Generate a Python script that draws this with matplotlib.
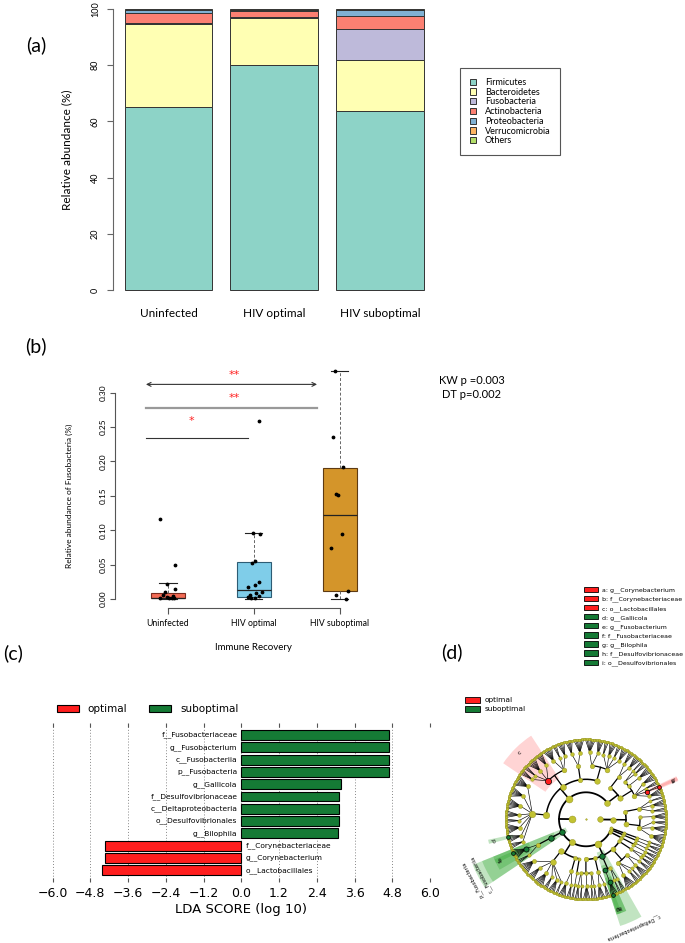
import numpy as np
import matplotlib.pyplot as plt
from matplotlib.patches import Patch, Wedge

W, H = 685, 943
LATO = 'Lato'

# ---------------- panel (a) data ----------------
groups_a = ['Uninfected', 'HIV optimal', 'HIV suboptimal']
phyla_a = ['Firmicutes', 'Bacteroidetes', 'Fusobacteria', 'Actinobacteria',
           'Proteobacteria', 'Verrucomicrobia', 'Others']
phyla_colors = ['#8DD3C7', '#FFFFB3', '#BEBADA', '#FB8072', '#80B1D3', '#FDB462', '#B3DE69']
firmicutes_pct = [65.2, 80.2, 63.6]
bacteroidetes_pct = [29.3, 16.5, 18.2]
fusobacteria_pct = [0.4, 0.4, 11.0]
actinobacteria_pct = [3.6, 2.2, 4.7]
proteobacteria_pct = [1.2, 0.3, 2.1]
verrucomicrobia_pct = [0.1, 0.2, 0.1]
others_pct = [0.2, 0.2, 0.3]

# ---------------- panel (b) data ----------------
groups_b = ['Uninfected', 'HIV optimal', 'HIV suboptimal']
box_colors = ['#F26B55', '#7FCDE9', '#D4952A']
box_edges = ['#7A2A1E', '#2D5C74', '#5E3A12']
box_q1 = [0.001, 0.003, 0.011]
box_med = [0.002, 0.0135, 0.122]
box_q3 = [0.009, 0.054, 0.191]
box_lo = [0.0, 0.0, 0.0]
box_hi = [0.023, 0.096, 0.332]
uninf_vals = [0.116, 0.049, 0.022, 0.0145, 0.0097, 0.0053, 0.0039, 0.001, 0.0015, 0.001, 0.001, 0.0024]
uninf_jit = [-0.09, 0.08, -0.01, 0.085, -0.035, -0.055, 0.055, -0.09, 0.015, 0.045, 0.07, -0.015]
opt_vals = [0.259, 0.096, 0.094, 0.053, 0.0547, 0.017, 0.020, 0.024, 0.0092, 0.0097,
            0.0053, 0.0048, 0.0024, 0.001, 0.0015]
opt_jit = [0.062, -0.004, 0.073, -0.023, 0.012, -0.066, 0.016, 0.062, 0.031, 0.093,
           -0.05, 0.058, -0.073, -0.035, 0.012]
sub_vals = [0.332, 0.236, 0.1916, 0.153, 0.1505, 0.0948, 0.074, 0.0111, 0.0053, 0.0]
sub_jit = [-0.06, -0.076, 0.033, -0.044, -0.026, 0.021, -0.099, 0.091, -0.044, 0.072]

# ---------------- panel (c) data ----------------
lda_names = ['o__Lactobacillales', 'g__Corynebacterium', 'f__Corynebacteriaceae',
             'g__Bilophila', 'o__Desulfovibrionales', 'c__Deltaproteobacteria',
             'f__Desulfovibrionaceae', 'g__Gallicola', 'p__Fusobacteria',
             'c__Fusobacteriia', 'g__Fusobacterium', 'f__Fusobacteriaceae']
lda_scores = [-4.42, -4.32, -4.32, 3.085, 3.095, 3.095, 3.095, 3.17, 4.695, 4.695, 4.695, 4.695]
lda_group = ['optimal'] * 3 + ['suboptimal'] * 9
lefse_colors = {'optimal': '#FF1E1E', 'suboptimal': '#157A35'}

# ---------------- panel (d) data ----------------
# kingdom -> phylum -> class -> order -> family (number of genera)
archaea_k = [[[[7, 5, 3], [5]], [[3, 5, 2]]]]
actinobacteria = [[[5, 2, 3, 5], [5], [3, 2]], [[5, 4]]]
firmicutes = [[[5, 3, 5, 3], [5, 7]], [[7, 5]], [[5, 3, 7], [5, 7, 3, 4]],
              [[8, 7, 8, 5, 3, 7, 5, 4]]]
fusobacteria = [[[7, 3]]]
bacteroidetes = [[[8, 5, 7, 3, 5, 2]], [[5, 3]], [[2]]]
proteobacteria = [[[3, 2], [5], [2, 2]], [[5, 3]], [[5], [2, 3]], [[7, 3, 2], [5, 3]], [[3, 2]]]
tenericutes = [[[3], [2]]]
verrucomicrobia = [[[3]]]
synergistetes = [[[2]]]
bacteria_k = [actinobacteria, firmicutes, fusobacteria, bacteroidetes, proteobacteria,
              tenericutes, verrucomicrobia, synergistetes]
clado_tree = [archaea_k, bacteria_k]
clado_hl = [
    ((1, 0, 0, 0, 1, 0), 'optimal', 'a'),
    ((1, 0, 0, 0, 1), 'optimal', 'b'),
    ((1, 1, 2, 1), 'optimal', 'c'),
    ((1, 1, 3, 0, 6, 1), 'suboptimal', 'd'),
    ((1, 2, 0, 0, 0, 2), 'suboptimal', 'e'),
    ((1, 2, 0, 0, 0), 'suboptimal', 'f'),
    ((1, 4, 2, 0, 0, 1), 'suboptimal', 'g'),
    ((1, 4, 2, 0, 0), 'suboptimal', 'h'),
    ((1, 4, 2, 0), 'suboptimal', 'i'),
    ((1, 4, 2), 'suboptimal', 'c__Deltaproteobacteria'),
    ((1, 2, 0), 'suboptimal', 'c__Fusobacteriia'),
    ((1, 2), 'suboptimal', 'p__Fusobacteria'),
]
clado_keys = ['a: g__Corynebacterium', 'b: f__Corynebacteriaceae', 'c: o__Lactobacillales',
              'd: g__Gallicola', 'e: g__Fusobacterium', 'f: f__Fusobacteriaceae',
              'g: g__Bilophila', 'h: f__Desulfovibrionaceae', 'i: o__Desulfovibrionales']
clado_key_group = ['optimal'] * 3 + ['suboptimal'] * 6

fig = plt.figure(figsize=(W / 100, H / 100), dpi=100)


def px_axes(x0, y0, x1, y1):
    return fig.add_axes([x0 / W, 1 - y1 / H, (x1 - x0) / W, (y1 - y0) / H])


def ftext(x, y, s, **kw):
    fig.text(x / W, 1 - y / H, s, **kw)


# panel labels
for lab, x, y in [('(a)', 36, 45), ('(b)', 36, 346), ('(c)', 13, 653), ('(d)', 452, 652)]:
    ftext(x, y, lab, fontsize=14, family=LATO, ha='center', va='center')

# ================= (a) stacked bars =================
ax_a = px_axes(113, 9, 434, 290)
series_a = [firmicutes_pct, bacteroidetes_pct, fusobacteria_pct, actinobacteria_pct,
            proteobacteria_pct, verrucomicrobia_pct, others_pct]
xa = np.arange(len(groups_a))
bottom = np.zeros(len(groups_a))
for vals, col, name in zip(series_a, phyla_colors, phyla_a):
    ax_a.bar(xa, vals, 0.83, bottom=bottom, color=col, edgecolor='#333333',
             linewidth=0.7, label=name, clip_on=False)
    bottom += np.array(vals)
ax_a.set_xlim(-0.525, 2.51)
ax_a.set_ylim(0, 100)
for s in ['top', 'right', 'bottom']:
    ax_a.spines[s].set_visible(False)
ax_a.spines['left'].set_color('#666666')
ax_a.set_yticks([0, 20, 40, 60, 80, 100])
ax_a.tick_params(axis='y', labelrotation=90, labelsize=6.5, length=4.5, pad=5,
                 color='#666666')
for t in ax_a.get_yticklabels():
    t.set_family(LATO)
    t.set_va('center')
ax_a.set_xticks(xa, groups_a)
ax_a.tick_params(axis='x', length=0, pad=13, labelsize=8.5)
for t in ax_a.get_xticklabels():
    t.set_family(LATO)
ax_a.set_ylabel('Relative abundance (%)', fontsize=8.5, family=LATO)
ax_a.yaxis.set_label_coords(-0.128, 0.5)
handles_a = [Patch(facecolor=c, edgecolor='#333333', linewidth=0.7) for c in phyla_colors]
leg_a = fig.legend(handles_a, phyla_a, loc='upper left', bbox_to_anchor=(460 / W, 1 - 68 / H),
                   borderaxespad=0, prop={'family': LATO, 'size': 6.5},
                   handlelength=0.7, handleheight=0.7, handletextpad=0.95,
                   labelspacing=0.08, borderpad=1.1, fancybox=False, framealpha=1)
leg_a.get_frame().set_edgecolor('#555555')
leg_a.get_frame().set_linewidth(0.8)

# ================= (b) box plot =================
ax_b = px_axes(115, 361, 393, 606)
stats = []
for i in range(3):
    stats.append(dict(med=box_med[i], q1=box_q1[i], q3=box_q3[i],
                      whislo=box_lo[i], whishi=box_hi[i], fliers=[]))
bp = ax_b.bxp(stats, positions=[1, 2, 3], widths=0.4, patch_artist=True, showfliers=False,
              whiskerprops=dict(linestyle=(0, (3, 2)), color='#666666', linewidth=0.7),
              capprops=dict(color='#222222', linewidth=0.8),
              medianprops=dict(color='#222222', linewidth=0.9), capwidths=0.2)
for patch, fc, ec in zip(bp['boxes'], box_colors, box_edges):
    patch.set_facecolor(fc)
    patch.set_edgecolor(ec)
    patch.set_linewidth(0.8)
for pos, vals, jit in [(1, uninf_vals, uninf_jit), (2, opt_vals, opt_jit), (3, sub_vals, sub_jit)]:
    ax_b.scatter(pos + np.array(jit), vals, s=3, color='black', zorder=5, clip_on=False)
# significance annotations
ax_b.plot([0.744, 1.934], [0.2337, 0.2337], color='#333333', lw=0.8, clip_on=False)
ax_b.plot([0.744, 2.736], [0.278, 0.278], color='#999999', lw=1.6, clip_on=False)
ax_b.annotate('', xy=(0.744, 0.312), xytext=(2.736, 0.312), annotation_clip=False,
              arrowprops=dict(arrowstyle='<->', color='#333333', lw=0.8,
                              shrinkA=0, shrinkB=0, mutation_scale=7))
for sx, sy, st in [(1.275, 0.259, '*'), (1.767, 0.292, '**'), (1.77, 0.325, '**')]:
    ax_b.text(sx, sy, st, color='#FF2020', fontsize=8, ha='center', va='center')
ax_b.set_xlim(0.384, 3.62)
ax_b.set_ylim(-0.0102, 0.346)
ax_b.spines['top'].set_visible(False)
ax_b.spines['right'].set_visible(False)
ax_b.spines['left'].set_bounds(0, 0.30)
ax_b.spines['bottom'].set_bounds(1, 3)
ax_b.spines['bottom'].set_position(('outward', 1.5))
for s in ['left', 'bottom']:
    ax_b.spines[s].set_color('#555555')
    ax_b.spines[s].set_linewidth(0.8)
ax_b.set_yticks([0, 0.05, 0.10, 0.15, 0.20, 0.25, 0.30],
                ['0.00', '0.05', '0.10', '0.15', '0.20', '0.25', '0.30'])
ax_b.tick_params(axis='y', labelrotation=90, labelsize=6, length=3.5, pad=2.5, color='#555555')
for t in ax_b.get_yticklabels():
    t.set_va('center')
    t.set_family(LATO)
ax_b.set_xticks([1, 2, 3], groups_b)
ax_b.tick_params(axis='x', labelsize=6.2, length=4, pad=4, color='#555555')
for t in ax_b.get_xticklabels():
    t.set_family(LATO)
ax_b.set_ylabel('Relative abundance of Fusobacteria (%)', fontsize=6, family=LATO)
ax_b.yaxis.set_label_coords(-0.151, 0.449)
ftext(253, 647, 'Immune Recovery', fontsize=7, family=LATO, ha='center', va='center')
ftext(472, 381, 'KW p =0.003', fontsize=8, family=LATO, ha='center', va='center')
ftext(472, 394, 'DT p=0.002', fontsize=8, family=LATO, ha='center', va='center')

# ================= (c) LDA scores =================
ax_c = px_axes(52.5, 722.7, 430, 881.7)
yc = np.arange(len(lda_names))
ax_c.barh(yc, lda_scores, height=0.8, color=[lefse_colors[g] for g in lda_group],
          edgecolor='black', linewidth=0.8, zorder=3)
for i, (n, sc) in enumerate(zip(lda_names, lda_scores)):
    if sc > 0:
        ax_c.text(-0.12, i, n, ha='right', va='center', fontsize=5.4, zorder=4)
    else:
        ax_c.text(0.14, i, n, ha='left', va='center', fontsize=5.4, zorder=4)
ax_c.set_xlim(-6, 6)
ax_c.set_ylim(-0.93, 12.0)
xt = np.round(np.arange(-6, 6.01, 1.2), 1) + 0.0
ax_c.set_xticks(xt, [f'{v:.1f}'.replace('-', '\u2212') for v in xt])
ax_c.tick_params(axis='x', direction='in', top=True, bottom=True, length=3,
                 labelsize=9, pad=4, color='#555555')
ax_c.set_yticks([])
ax_c.grid(axis='x', linestyle=(0, (1, 2)), color='#888888', linewidth=0.7)
ax_c.set_axisbelow(True)
for s in ax_c.spines.values():
    s.set_visible(False)
ftext(241, 910, 'LDA SCORE (log 10)', fontsize=9.5, ha='center', va='center')
handles_c = [Patch(facecolor=lefse_colors[g], edgecolor='black', linewidth=0.8)
             for g in ['optimal', 'suboptimal']]
fig.legend(handles_c, ['optimal', 'suboptimal'], loc='center left',
           bbox_to_anchor=(57 / W, 1 - 709 / H), ncol=2, frameon=False, fontsize=7.5,
           handlelength=2.1, handleheight=0.75, handletextpad=0.85, columnspacing=2.1,
           borderpad=0, borderaxespad=0)

# ================= (d) cladogram =================
cx, cy = 586, 819.3
ax_d = px_axes(450, 720, 685, 943)
ax_d.set_xlim(450 - cx, 685 - cx)
ax_d.set_ylim(cy - 943, cy - 720)
ax_d.axis('off')

radii = [0, 14, 27, 40, 54, 67, 80]


def count_leaves(obj, depth):
    if depth == 5:
        return obj
    return sum(count_leaves(c, depth + 1) for c in obj)


n_leaves = count_leaves(clado_tree, 0)
step = 360.0 / n_leaves
start = -18.0
nodes = {}
children = {}
span = {}
counter = [0]


def layout(obj, path, depth):
    kids = []
    if depth == 5:
        for g in range(obj):
            th = start + step * counter[0]
            counter[0] += 1
            p = path + (g,)
            nodes[p] = (6, th, 1)
            span[p] = (th, th)
            kids.append(p)
    else:
        for i, c in enumerate(obj):
            kids.append(layout(c, path + (i,), depth + 1))
    lo = min(span[k][0] for k in kids)
    hi = max(span[k][1] for k in kids)
    nleaf = sum(nodes[k][2] for k in kids)
    nodes[path] = (depth, (lo + hi) / 2, nleaf)
    span[path] = (lo, hi)
    children[path] = kids
    return path


layout(clado_tree, (), 0)


def xy(r, th):
    return r * np.cos(np.radians(th)), r * np.sin(np.radians(th))


# shaded clades
for path, grp, lab in clado_hl:
    d = len(path)
    lo, hi = span[path]
    th1, th2 = lo - step / 2, hi + step / 2
    if lab.startswith('p__'):
        r_out = 122
    elif lab.startswith('c__'):
        r_out = 112
    else:
        r_out = 100
    if len(path) == 6:
        th1, th2 = th1 - 0.6, th2 + 0.6
    r_in = radii[d] - 5
    fc = '#FF0000' if grp == 'optimal' else '#22A022'
    al = 0.17 if grp == 'optimal' else 0.28
    ax_d.add_patch(Wedge((0, 0), r_out, th1, th2, width=r_out - r_in,
                         facecolor=fc, alpha=al, edgecolor='none', zorder=1))
    mid = (th1 + th2) / 2
    if len(lab) == 1:
        tx, ty = xy(r_out - 6, mid)
        ax_d.text(tx, ty, lab, fontsize=4.5, ha='center', va='center',
                  rotation=mid - 90, zorder=6)
    else:
        tx, ty = xy(r_out + 6, mid)
        ax_d.text(tx, ty, lab, fontsize=3.6, ha='center', va='center',
                  rotation=mid - 90, zorder=6)

# tree lines
for parent, kids in children.items():
    dp, thp, _ = nodes[parent]
    if dp == 0:
        continue
    if dp <= 3:
        lw = {1: 1.3, 2: 1.1, 3: 0.9}[dp]
        r0, r1 = radii[dp], radii[dp + 1]
        x0, y0 = xy(r0, thp)
        x1, y1 = xy(r1, thp)
        ax_d.plot([x0, x1], [y0, y1], color='black', lw=lw, zorder=2)
        ths = [nodes[k][1] for k in kids] + [thp]
        arc = np.linspace(min(ths), max(ths), 200)
        ax_d.plot(r1 * np.cos(np.radians(arc)), r1 * np.sin(np.radians(arc)),
                  color='black', lw=lw, zorder=2)
    else:
        x0, y0 = xy(radii[dp], thp)
        for k in kids:
            x1, y1 = xy(radii[dp + 1], nodes[k][1])
            ax_d.plot([x0, x1], [y0, y1], color='black', lw=0.45, zorder=2)

# nodes
hl_group = {p: g for p, g, _ in clado_hl}
for path, (d, th, nl) in nodes.items():
    x, y = xy(radii[d], th)
    if d == 0:
        diam = 1.6
    elif d == 6:
        diam = 2.6
    else:
        diam = min(2.4 + 0.6 * np.sqrt(nl), 7.0)
    if path in hl_group:
        ax_d.scatter(x, y, s=((diam + 1.2) * 0.72) ** 2, color=lefse_colors[hl_group[path]],
                     edgecolors='black', linewidths=0.5, zorder=5)
    else:
        ax_d.scatter(x, y, s=(diam * 0.72) ** 2, color='#C2C232',
                     edgecolors='#8F8F1E', linewidths=0.3, zorder=4)

# cladogram legends
handles_d = [Patch(facecolor=lefse_colors[g], edgecolor='black', linewidth=0.6)
             for g in ['optimal', 'suboptimal']]
fig.legend(handles_d, ['optimal', 'suboptimal'], loc='upper left',
           bbox_to_anchor=(465 / W, 1 - 697 / H), frameon=False, fontsize=5.3,
           handlelength=2.0, handleheight=0.8, handletextpad=0.7, labelspacing=0.35,
           borderpad=0, borderaxespad=0)
handles_k = [Patch(facecolor=lefse_colors[g], edgecolor='black', linewidth=0.6)
             for g in clado_key_group]
fig.legend(handles_k, clado_keys, loc='upper left',
           bbox_to_anchor=(584 / W, 1 - 587 / H), frameon=False, fontsize=4.5,
           handlelength=2.2, handleheight=0.9, handletextpad=0.7, labelspacing=0.42,
           borderpad=0, borderaxespad=0)

fig.savefig('out.png', dpi=100)
